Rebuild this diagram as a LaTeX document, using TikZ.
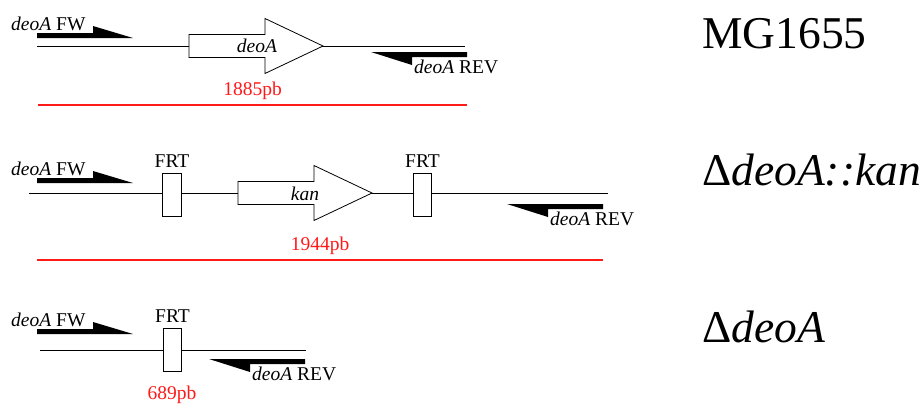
\documentclass[tikz,border=0pt]{standalone}
\usepackage{fontspec}
\setmainfont{Liberation Serif}
\usetikzlibrary{calc}
\definecolor{pcrred}{HTML}{FF1A1A}

\begin{document}
\begin{tikzpicture}[x=1pt, y=-1pt,
  dna/.style={draw=black, line width=1pt},
  gene/.style={draw=black, fill=white, line width=0.8pt},
  primer/.style={fill=black},
  lab/.style={font=\fontsize{19.5}{22}\selectfont, inner sep=0pt},
  frt/.style={rectangle, draw=black, fill=white, line width=0.8pt,
              minimum width=18.5pt, minimum height=43pt, inner sep=0pt,
              label={[lab, inner sep=4.5pt]above:FRT}},
  strain/.style={font=\fontsize{45.5}{50}\selectfont, inner sep=0pt, anchor=base west},
  pcr/.style={draw=pcrred, line width=2pt},
  pcrsize/.style={lab, text=pcrred, inner sep=4pt},
]
  \useasboundingbox (0,0) rectangle (921,405);

  % chromosome lines
  \coordinate (w1) at (37,46);   \coordinate (e1) at (465,46);
  \coordinate (w2) at (29,193);  \coordinate (e2) at (608,193);
  \coordinate (w3) at (40,350);  \coordinate (e3) at (306,350);
  \draw[dna] (w1) -- (e1);
  \draw[dna] (w2) -- (e2);
  \draw[dna] (w3) -- (e3);

  % genes
  \filldraw[gene] (189,46) coordinate (deoA) -- ++(0,-11.5) -- ++(76,0) -- ++(0,-16)
    -- ++(58,27.5) -- ++(-58,27.5) -- ++(0,-16) -- ++(-76,0) -- cycle;
  \node[lab] (deoAlab) at ($(deoA)+(68,0)$) {\textit{deoA}};
  \filldraw[gene] (238,193) coordinate (kan) -- ++(0,-11.5) -- ++(76,0) -- ++(0,-16)
    -- ++(58,27.5) -- ++(-58,27.5) -- ++(0,-16) -- ++(-76,0) -- cycle;
  \node[lab] (kanlab) at ($(kan)+(67,1)$) {\textit{kan}};

  % FRT sites
  \node[frt] (frt2a) at (172,194.5) {};
  \node[frt] (frt2b) at (422.5,194.5) {};
  \node[frt] (frt3) at (172.5,349.5) {};

  % primers
  \foreach \i/\fy/\rx/\ry in {1/38/467/52, 2/183/603/204, 3/334/305/359} {
    \fill[primer] (37,\fy) coordinate (fw\i) -- ++(0,-5) -- ++(56,0) -- ++(0,-7)
      -- ++(40,12) -- cycle;
    \node[lab, anchor=base west] (fw\i lab) at ($(fw\i)+(-26,-8)$) {\textit{deoA} FW};
    \fill[primer] (\rx,\ry) coordinate (rev\i) -- ++(0,5) -- ++(-55,0) -- ++(0,8)
      -- ++(-41,-13) -- cycle;
    \node[lab, anchor=base west] (rev\i lab) at ($(rev\i)+(-53,21)$) {\textit{deoA} REV};
  }

  % PCR products
  \coordinate (p1w) at (38,104.5); \coordinate (p1e) at (467,104.5);
  \coordinate (p2w) at (37,260);   \coordinate (p2e) at (603,260);
  \draw[pcr] (p1w) -- node[pcrsize, above] (len1) {1885pb} (p1e);
  \draw[pcr] (p2w) -- node[pcrsize, above] (len2) {1944pb} (p2e);
  \node[lab, text=pcrred, anchor=base] (len3) at (172,399) {689pb};

  % strains
  \node[strain] (mg) at (702,48) {MG1655};
  \node[strain] (kanstrain) at (702,185) {Δ\textit{deoA::kan}};
  \node[strain] (deostrain) at (702,342) {Δ\textit{deoA}};
\end{tikzpicture}
\end{document}
